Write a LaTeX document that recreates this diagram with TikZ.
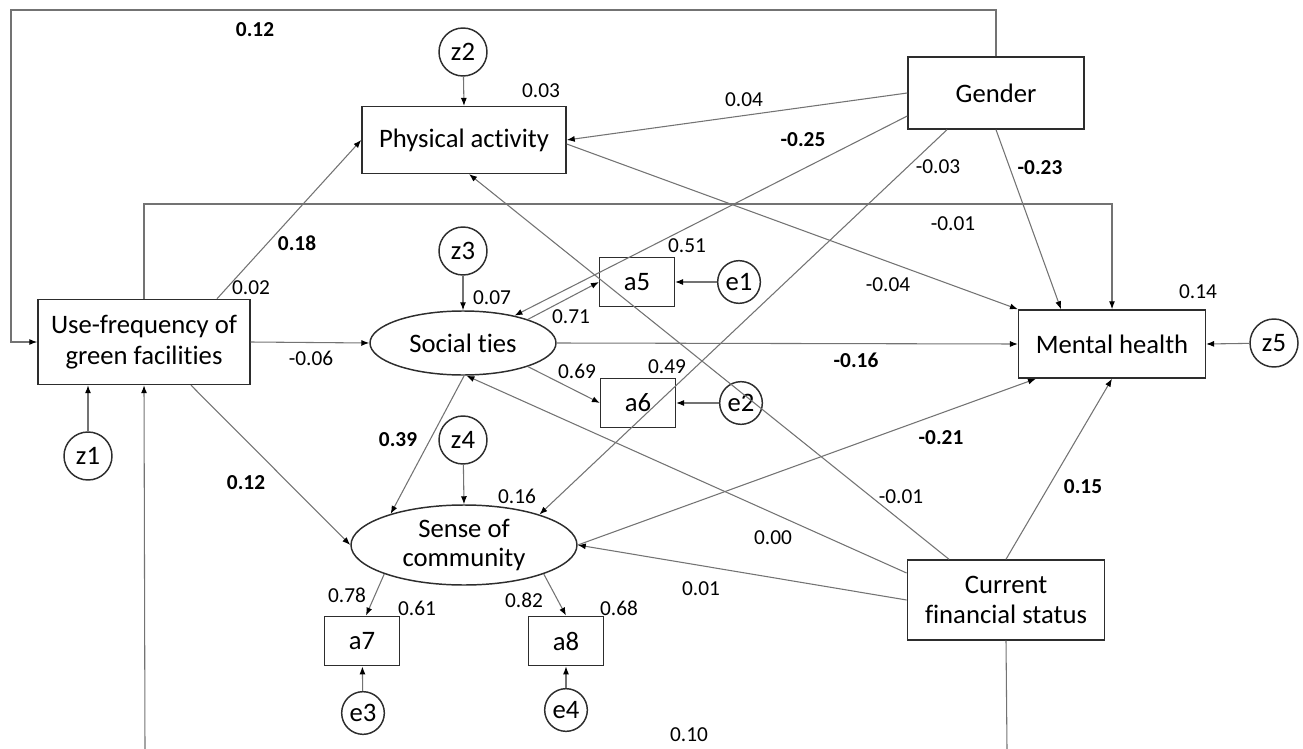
\documentclass[tikz,border=0pt]{standalone}
\usepackage{fontspec}
\setmainfont{Carlito}[Ligatures=NoCommon]
\usepackage{xcolor}
\usepackage{tikz}
\usetikzlibrary{arrows.meta}
\usetikzlibrary{shapes.geometric}

\definecolor{linegray}{RGB}{115,115,115}
\definecolor{boxline}{RGB}{45,45,45}

\begin{document}
\begin{tikzpicture}[x=0.75pt,y=-0.75pt,
    obsn/.style={draw=boxline,line width=1.1pt,rectangle,align=center,
      font=\fontsize{20}{23}\selectfont,inner sep=2pt},
    itemn/.style={obsn,minimum width=56pt,minimum height=37pt},
    latn/.style={draw=boxline,line width=1.1pt,ellipse,align=center,
      font=\fontsize{20}{22}\selectfont,inner sep=0pt},
    errn/.style={draw=boxline,line width=1.1pt,circle,minimum size=36pt,
      inner sep=0pt,font=\fontsize{20}{22}\selectfont},
    smerr/.style={errn,minimum size=32pt},
    pathc/.style={draw=linegray,line width=0.8pt,
      -{Latex[length=6pt,width=4.5pt,color=black]}},
    plainc/.style={draw=linegray,line width=0.8pt},
    coef/.style={font=\fontsize{16}{18}\selectfont,inner sep=0pt},
    coefb/.style={coef,font=\fontsize{16}{18}\selectfont\bfseries}]
  \useasboundingbox (0,0) rectangle (1303,749);

  % observed variables
  \node[obsn,minimum width=159pt,minimum height=63.75pt] (uf) at (144,342)
    {Use-frequency of\\green facilities};
  \node[obsn,minimum width=153pt,minimum height=50pt] (pa) at (464,140) {Physical activity};
  \node[obsn,minimum width=132pt,minimum height=54pt] (gen) at (996,93) {Gender};
  \node[obsn,minimum width=140pt,minimum height=51pt] (mh) at (1112,344) {Mental health};
  \node[obsn,minimum width=148pt,minimum height=60pt] (cfs) at (1006,600)
    {Current\\financial status};

  % latent variables and items
  \node[latn,minimum width=139.5pt,minimum height=48pt] (st) at (463,343) {Social ties};
  \node[latn,minimum width=169.5pt,minimum height=60pt] (soc) at (464,545)
    {Sense of\\community};
  \node[itemn] (a5) at (637,282) {a5};
  \node[itemn] (a6) at (638,403) {a6};
  \node[itemn] (a7) at (362,641) {a7};
  \node[itemn] (a8) at (566,641) {a8};

  % disturbances and errors
  \node[errn] (z1) at (88,456) {z1};
  \node[errn] (z2) at (463,52) {z2};
  \node[errn] (z3) at (463,251) {z3};
  \node[errn] (z4) at (463,440) {z4};
  \node[errn] (z5) at (1274,343) {z5};
  \node[smerr] (e1) at (739,282) {e1};
  \node[smerr] (e2) at (741,403) {e2};
  \node[smerr] (e3) at (363,713) {e3};
  \node[smerr] (e4) at (566,710) {e4};

  \coordinate (topleft) at (11,10);
  \coordinate (innertop) at (600,204);
  \coordinate (botl) at (145,749);
  \coordinate (botr) at (1007,749);

  % residual arrows
  \draw[pathc] (z1) -- (z1 |- uf.south);
  \draw[pathc] (z2) -- (pa.north);
  \draw[pathc] (z3) -- (st.north);
  \draw[pathc] (z4) -- (soc.north);
  \draw[pathc] (z5) -- (mh.east);
  \draw[pathc] (e1) -- (a5);
  \draw[pathc] (e2) -- (a6);
  \draw[pathc] (e3) -- (a7);
  \draw[pathc] (e4) -- (a8);

  % structural paths
  \draw[pathc] (gen.north) |- (topleft) |- (uf.west);
  \draw[pathc] (uf.north) |- (innertop) -| (mh.north);
  \draw[pathc] (botl) -- (uf.south);
  \draw[plainc] (cfs.south) -- (botr);
  \draw[pathc] ([xshift=54.75pt]uf.north) -- (pa.west);
  \draw[pathc] (uf.east) -- (st.west);
  \draw[pathc] ([xshift=35.25pt]uf.south) -- (soc.west);
  \draw[pathc] (gen.west) -- (pa.east);
  \draw[pathc] ([yshift=-3pt]pa.east) -- (mh.north west);
  \draw[pathc] ([yshift=-17.25pt]gen.west) -- (st.28);
  \draw[pathc] ([xshift=-36.75pt]gen.south) -- (soc.22);
  \draw[pathc] (gen.south) -- ([xshift=-38.25pt]mh.north);
  \draw[pathc] (st.east) -- (mh.west);
  \draw[pathc] (st.-88) -- (soc.157);
  \draw[pathc] ([yshift=20.25pt]cfs.west) -- (st.-84);
  \draw[pathc] ([xshift=-42.75pt]cfs.north) -- ([xshift=3.75pt]pa.south);
  \draw[pathc] (cfs.north) -- (mh.south);
  \draw[pathc] (cfs.west) -- (soc.east);
  \draw[pathc] (soc.east) -- ([xshift=13.5pt]mh.south west);

  % measurement paths
  \draw[pathc] (st.20) -- (a5.west);
  \draw[pathc] (st.-20) -- (a6.west);
  \draw[pathc] (soc.200) -- ([xshift=3pt]a7.north);
  \draw[pathc] (soc.-20) -- (a8.north);

  % coefficients
  \foreach \x/\y/\t/\n in {541/91/0.03/c1, 744/100/0.04/c2, 938/167/-0.03/c3,
      953/224/-0.01/c4, 687/246/0.51/c5, 251/288/0.02/c6, 888/285/-0.04/c7,
      1198/292/0.14/c8, 492/298/0.07/c9, 571/317/0.71/c10, 311/358/-0.06/c11,
      667/367/0.49/c12, 577/371/0.69/c13, 517/496/0.16/c14, 901/497/-0.01/c15,
      773/538/0.00/c16, 701/589/0.01/c17, 347/595/0.78/c18, 524/600/0.82/c19,
      417/608/0.61/c20, 619/608/0.68/c21, 689/735/0.10/c22}
    \node[coef] (\n) at (\x,\y) {\t};
  \foreach \x/\y/\t/\n in {255/30/0.12/b1, 803/140/-0.25/b2, 1040/168/-0.23/b3,
      297/243/0.18/b4, 856/360/-0.16/b5, 398/440/0.39/b6, 941/438/-0.21/b7,
      246/483/0.12/b8, 1083/487/0.15/b9}
    \node[coefb] (\n) at (\x,\y) {\t};
\end{tikzpicture}
\end{document}
